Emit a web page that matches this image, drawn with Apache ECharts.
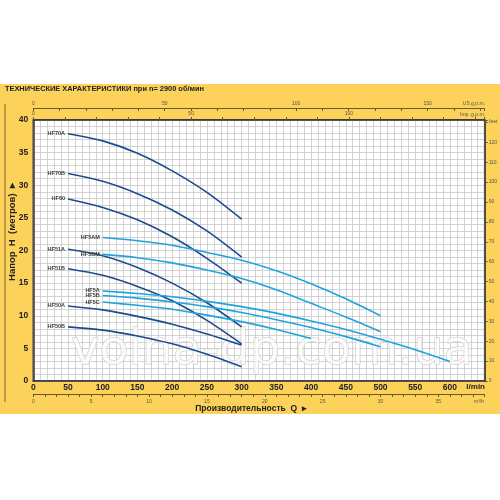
<!DOCTYPE html>
<html><head><meta charset="utf-8">
<script src="https://cdn.jsdelivr.net/npm/echarts@6/dist/echarts.min.js"></script>
<style>html,body{margin:0;padding:0;background:#fff}#c{width:500px;height:500px}</style>
</head><body><div id="c"></div>
<script>
// ---- data (Q in l/min, H in metres) ----
const darkQ  = [50, 100, 150, 200, 250, 300];
const hf70a  = [37.9, 36.8, 34.9, 32.2, 28.9, 24.8];
const hf70b  = [31.8, 30.6, 28.7, 26.2, 23.0, 19.0];
const hf60   = [27.9, 26.6, 24.7, 22.1, 18.8, 15.0];
const hf51a  = [20.2, 19.2, 17.4, 15.0, 12.0, 8.3];
const hf51b  = [17.2, 16.2, 14.5, 12.3, 9.3, 5.7];
const hf50a  = [11.5, 10.9, 9.9, 8.7, 7.2, 5.5];
const hf50b  = [8.3, 7.8, 6.9, 5.7, 4.1, 2.2];

const lightQ = [100, 150, 200, 250, 300, 350, 400, 450, 500, 550, 600];
const hf5am  = [22.0, 21.5, 20.8, 19.7, 18.5, 16.9, 14.9, 12.6, 10.0];
const hf5bm  = [19.4, 18.9, 18.1, 17.0, 15.7, 14.0, 11.9, 9.8, 7.55];
const hf5a   = [13.8, 13.4, 12.9, 12.2, 11.4, 10.4, 9.2, 7.9, 6.4, 4.8, 3.0];
const hf5b   = [13.1, 12.7, 12.1, 11.4, 10.5, 9.4, 8.2, 6.8, 5.25];
const hf5c   = [12.1, 11.6, 11.0, 10.1, 9.1, 7.9, 6.5];

const darkNames  = ['HF70A', 'HF70B', 'HF60', 'HF51A', 'HF51B', 'HF50A', 'HF50B'];
const darkSets   = [hf70a, hf70b, hf60, hf51a, hf51b, hf50a, hf50b];
const lightNames = ['HF5AM', 'HF5BM', 'HF5A', 'HF5B', 'HF5C'];
const lightSets  = [hf5am, hf5bm, hf5a, hf5b, hf5c];

// axis ranges / tick steps
const qMax = 650;            // l/min
const hMax = 40;             // m
const qLabelStep = 50;
const hLabelStep = 5;
const m3hMax = qMax * 0.06;
const usMax = qMax / 3.78541;
const impMax = qMax / 4.54609;
const feetMax = hMax * 3.28084;

const DARK = '#1d4b8e', LIGHT = '#1ea5de';
const FONT = "'Liberation Sans', Arial, sans-serif";

function mk(name, qs, hs, color) {
  return {
    type: 'line', name: name, smooth: 0.3, symbol: 'circle', symbolSize: 0, showSymbol: true,
    lineStyle: { color: color, width: 1.6 }, itemStyle: { color: color },
    emphasis: { disabled: true }, z: 3,
    data: hs.map(function (h, i) {
      if (i === 0) return { value: [qs[i], h], label: { show: true, position: 'left', distance: 3, formatter: name,
        fontSize: 5.5, fontWeight: 'bold', color: '#3a3a3a', fontFamily: FONT } };
      return [qs[i], h];
    })
  };
}
const series = [];
darkNames.forEach(function (n, i) { series.push(mk(n, darkQ, darkSets[i], DARK)); });
lightNames.forEach(function (n, i) { series.push(mk(n, lightQ, lightSets[i], LIGHT)); });

const gridLine = { show: true, lineStyle: { color: '#c8c8c8', width: 0.8 } };
const border = { show: true, onZero: false, lineStyle: { color: '#333', width: 1.5 } };
const small = { fontSize: 5, color: '#555', fontFamily: FONT };

const chart = echarts.init(document.getElementById('c'), null, { renderer: 'canvas' });
chart.setOption({
  animation: false,
  backgroundColor: '#ffffff',
  grid: { left: 33.3, right: 15, top: 120, bottom: 119, show: true, backgroundColor: '#ffffff', borderColor: '#333', borderWidth: 1.5, z: 0 },
  xAxis: [
    { type: 'value', min: 0, max: qMax, interval: 10, position: 'bottom', axisLine: border, axisTick: { show: false },
      axisLabel: { fontSize: 8.5, fontWeight: 'bold', color: '#222', margin: 2, fontFamily: FONT,
        formatter: function (v) { return (v % qLabelStep === 0 && v <= 600) ? String(v) : ''; } },
      splitLine: gridLine },
    { type: 'value', min: 0, max: m3hMax, interval: 1, position: 'bottom', offset: 13,
      axisLine: { show: true, onZero: false, lineStyle: { color: '#6b5a26', width: 1 } },
      axisTick: { show: true, length: 3, lineStyle: { color: '#6b5a26' } },
      axisLabel: Object.assign({ margin: 5, formatter: function (v) { return (v % 5 === 0) ? String(v) : ''; } }, small),
      splitLine: { show: false } },
    { type: 'value', min: 0, max: usMax, interval: 10, position: 'top', offset: 12,
      axisLine: { show: true, onZero: false, lineStyle: { color: '#6b5a26', width: 1 } },
      axisTick: { show: true, inside: true, length: 3, lineStyle: { color: '#6b5a26' } },
      axisLabel: Object.assign({ margin: 2, formatter: function (v) { return (v % 50 === 0) ? String(v) : ''; } }, small),
      splitLine: { show: false } },
    { type: 'value', min: 0, max: impMax, interval: 10, position: 'top', offset: 0,
      axisLine: border,
      axisTick: { show: true, length: 3, lineStyle: { color: '#6b5a26' } },
      axisLabel: Object.assign({ margin: 4, formatter: function (v) { return (v % 50 === 0) ? String(v) : ''; } }, small),
      splitLine: { show: false } }
  ],
  yAxis: [
    { type: 'value', min: 0, max: hMax, interval: 1, axisLine: border, axisTick: { show: false },
      axisLabel: { fontSize: 8.5, fontWeight: 'bold', color: '#222', margin: 5, fontFamily: FONT,
        formatter: function (v) { return (v % hLabelStep === 0) ? String(v) : ''; } },
      splitLine: gridLine },
    { type: 'value', position: 'right', min: 0, max: feetMax, interval: 10, axisLine: border,
      axisTick: { show: true, length: 3, lineStyle: { color: '#555' } },
      axisLabel: Object.assign({ margin: 4, formatter: function (v) { return (v % 10 === 0 && v <= 120) ? String(v) : ''; } }, small),
      splitLine: { show: false } }
  ],
  graphic: [
    { type: 'rect', z: -10, silent: true, shape: { x: 0, y: 84, width: 500, height: 330 }, style: { fill: '#fcd25a' } },
    { type: 'line', z: 5, silent: true, shape: { x1: 5, y1: 104, x2: 5, y2: 402 }, style: { stroke: '#7a6630', lineWidth: 1 } },
    { type: 'text', z: 5, x: 5, y: 89, style: { text: 'ТЕХНИЧЕСКИЕ ХАРАКТЕРИСТИКИ при n= 2900 об/мин', font: 'bold 7.4px ' + FONT, fill: '#222', align: 'left', verticalAlign: 'middle', textAlign: 'left', textVerticalAlign: 'middle' } },
    { type: 'text', z: 5, x: 12, y: 232, rotation: Math.PI / 2, style: { text: 'Напор  H  (метров)  ▸', font: 'bold 9.5px ' + FONT, fill: '#222', align: 'center', verticalAlign: 'middle', textAlign: 'center', textVerticalAlign: 'middle' } },
    { type: 'text', z: 5, x: 251, y: 409, style: { text: 'Производительность  Q  ▸', font: 'bold 8.5px ' + FONT, fill: '#222', align: 'center', verticalAlign: 'middle', textAlign: 'center', textVerticalAlign: 'middle' } },
    { type: 'text', z: 5, x: 485, y: 104, style: { text: 'US g.p.m.', font: '5px ' + FONT, fill: '#555', align: 'right', verticalAlign: 'middle', textAlign: 'right', textVerticalAlign: 'middle' } },
    { type: 'text', z: 5, x: 485, y: 114.5, style: { text: 'Imp. g.p.m.', font: '5px ' + FONT, fill: '#555', align: 'right', verticalAlign: 'middle', textAlign: 'right', textVerticalAlign: 'middle' } },
    { type: 'text', z: 5, x: 485, y: 387, style: { text: 'l/min', font: 'bold 8px ' + FONT, fill: '#222', align: 'right', verticalAlign: 'middle', textAlign: 'right', textVerticalAlign: 'middle' } },
    { type: 'text', z: 5, x: 484, y: 401.5, style: { text: 'm³/h', font: '5px ' + FONT, fill: '#555', align: 'right', verticalAlign: 'middle', textAlign: 'right', textVerticalAlign: 'middle' } },
    { type: 'text', z: 5, x: 489, y: 122, style: { text: 'feet', font: '5px ' + FONT, fill: '#555', align: 'left', verticalAlign: 'middle', textAlign: 'left', textVerticalAlign: 'middle' } },
    { type: 'text', z: 1, silent: true, x: 272, y: 352, style: { text: 'volna-dp.com.ua', font: '48px "DejaVu Sans", sans-serif', fill: 'rgba(255,255,255,0.7)', stroke: '#cccccc', lineWidth: 1, align: 'center', verticalAlign: 'middle', textAlign: 'center', textVerticalAlign: 'middle' } }
  ],
  series: series
});
</script>
</body></html>
